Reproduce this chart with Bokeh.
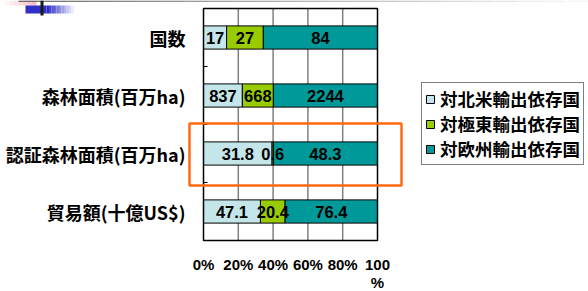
import pandas as pd
from bokeh.plotting import figure
from bokeh.models import (ColumnDataSource, Legend, LegendItem,
                          BoxAnnotation, Range1d)
from bokeh.core.properties import value
from bokeh.embed import file_html
from bokeh.resources import INLINE

categories = ["国数", "森林面積(百万ha)", "認証森林面積(百万ha)", "貿易額(十億US$)"]
north_america = [17, 837, 31.8, 47.1]
far_east = [27, 668, 0.6, 20.4]
europe = [84, 2244, 48.3, 76.4]
series_names = ["対北米輸出依存国", "対極東輸出依存国", "対欧州輸出依存国"]
series_colors = ["#C4E6EA", "#99CC00", "#009999"]
x_ticks = [0, 20, 40, 60, 80, 100]
x_tick_labels = ["0%", "20%", "40%", "60%", "80%", "100\n%"]

# ---- layout (pixels inside the figure) ----
W, H = 588, 291
PX0, PXW = 203, 174        # x pixel of 0%, pixel width of 100%
PT, PH = 8, 232            # top pixel and pixel height of the category area

n = len(categories)


def X(px):
    return (px - PX0) / PXW * 100


def Y(py):
    return n - (py - PT) * n / PH


ypos = [n - i - 0.5 for i in range(n)]
boundaries = list(range(1, n))
df = pd.DataFrame({"cat": categories, "y": ypos, "na": north_america,
                   "fe": far_east, "eu": europe})
tot = df["na"] + df["fe"] + df["eu"]
for k in ["na", "fe", "eu"]:
    df[k + "_p"] = df[k] / tot * 100

p = figure(width=W, height=H, output_backend="svg", toolbar_location=None,
           x_range=Range1d(X(0), X(W)), y_range=Range1d(Y(H), Y(0)),
           min_border=0)
p.axis.visible = False
p.grid.visible = False
p.outline_line_color = None
p.background_fill_color = "white"
p.border_fill_color = "white"

# vertical grid lines
inner = x_ticks[1:-1]
p.segment(x0=inner, x1=inner, y0=[0] * len(inner), y1=[n] * len(inner),
          line_color="#808080", line_width=1.5)

# bars
keys = ["na", "fe", "eu"]
left = pd.Series([0.0] * n)
renderers, sources = [], []
for k, color in zip(keys, series_colors):
    right = left + df[k + "_p"]
    src = ColumnDataSource(dict(y=df["y"], left=left, right=right,
                                mid=(left + right) / 2,
                                lab=[("%g" % v) for v in df[k]]))
    r = p.hbar(y="y", left="left", right="right", height=0.4, source=src,
               fill_color=color, line_color="black", line_width=1)
    renderers.append(r)
    sources.append(src)
    left = right

for src in sources:
    p.text(x="mid", y="y", text="lab", source=src, text_align="center",
           text_baseline="middle", text_font=value("Liberation Sans"),
           text_font_style="bold", text_font_size="16.5px", text_color="black")

# plot-area border
p.add_layout(BoxAnnotation(left=0, right=100, bottom=0, top=n,
                           fill_color=None, fill_alpha=0,
                           line_color="black", line_alpha=1, line_width=1.5))

# small ticks at category boundaries
p.segment(x0=[0] * len(boundaries), x1=[X(PX0 + 4)] * len(boundaries),
          y0=boundaries, y1=boundaries, line_color="black", line_width=1)

# category labels
p.text(x=[X(185)] * n, y=ypos, text=categories, text_align="right",
       text_baseline="middle", text_font=value("Noto Sans CJK JP"),
       text_font_style="bold", text_font_size="18px", text_color="black")

# x tick labels
p.text(x=x_ticks, y=[Y(255)] * len(x_ticks), text=x_tick_labels,
       text_align="center", text_baseline="top",
       text_font=value("Liberation Sans"), text_font_style="bold",
       text_font_size="15px", text_line_height=1.1, text_color="black")

# legend
legend = Legend(items=[LegendItem(label=nm, renderers=[r])
                       for nm, r in zip(series_names, renderers)],
                location=(421, H - 165), margin=0, padding=3, spacing=0,
                label_height=18, glyph_width=10, glyph_height=10,
                label_standoff=5, border_line_color="black",
                border_line_width=1, background_fill_alpha=1,
                label_text_font="Noto Sans CJK JP",
                label_text_font_style="bold",
                label_text_font_size="17.5px",
                label_text_color="black")
p.add_layout(legend, "center")

# highlight frame (orange box)
p.add_layout(BoxAnnotation(left=X(189), right=X(401), top=Y(123), bottom=Y(185),
                           fill_color=None, fill_alpha=0,
                           line_color="#FF6A13", line_alpha=1, line_width=2.5))


# ---- slide decoration (top-left) ----
def hex_mix(c0, c1, t):
    a = [int(c0[i:i + 2], 16) for i in (1, 3, 5)]
    b = [int(c1[i:i + 2], 16) for i in (1, 3, 5)]
    return "#%02x%02x%02x" % tuple(round(u + (v - u) * t) for u, v in zip(a, b))


def gradient(x0, x1, y0, y1, c0, c1, steps):
    w = (x1 - x0) / steps
    for i in range(steps):
        p.add_layout(BoxAnnotation(left=X(x0 + i * w), right=X(x0 + (i + 1) * w),
                                   top=Y(y0), bottom=Y(y1),
                                   fill_color=hex_mix(c0, c1, i / max(steps - 1, 1)),
                                   fill_alpha=1, line_color=None))


gradient(0, 36, 0, 5, "#ffffff", "#f4c0c6", 8)
gradient(18, 588, 0, 1.2, "#444444", "#f4f4f4", 24)
p.add_layout(BoxAnnotation(left=X(25), right=X(46), top=Y(5), bottom=Y(13),
                           fill_color="#3030C8", fill_alpha=1, line_color=None))
gradient(46, 76, 5, 13, "#3030C8", "#ffffff", 12)
p.add_layout(BoxAnnotation(left=X(40), right=X(43), top=Y(0), bottom=Y(15),
                           fill_color="#1a1a1a", fill_alpha=1, line_color=None))

open("out.html", "w").write(file_html(p, INLINE))
